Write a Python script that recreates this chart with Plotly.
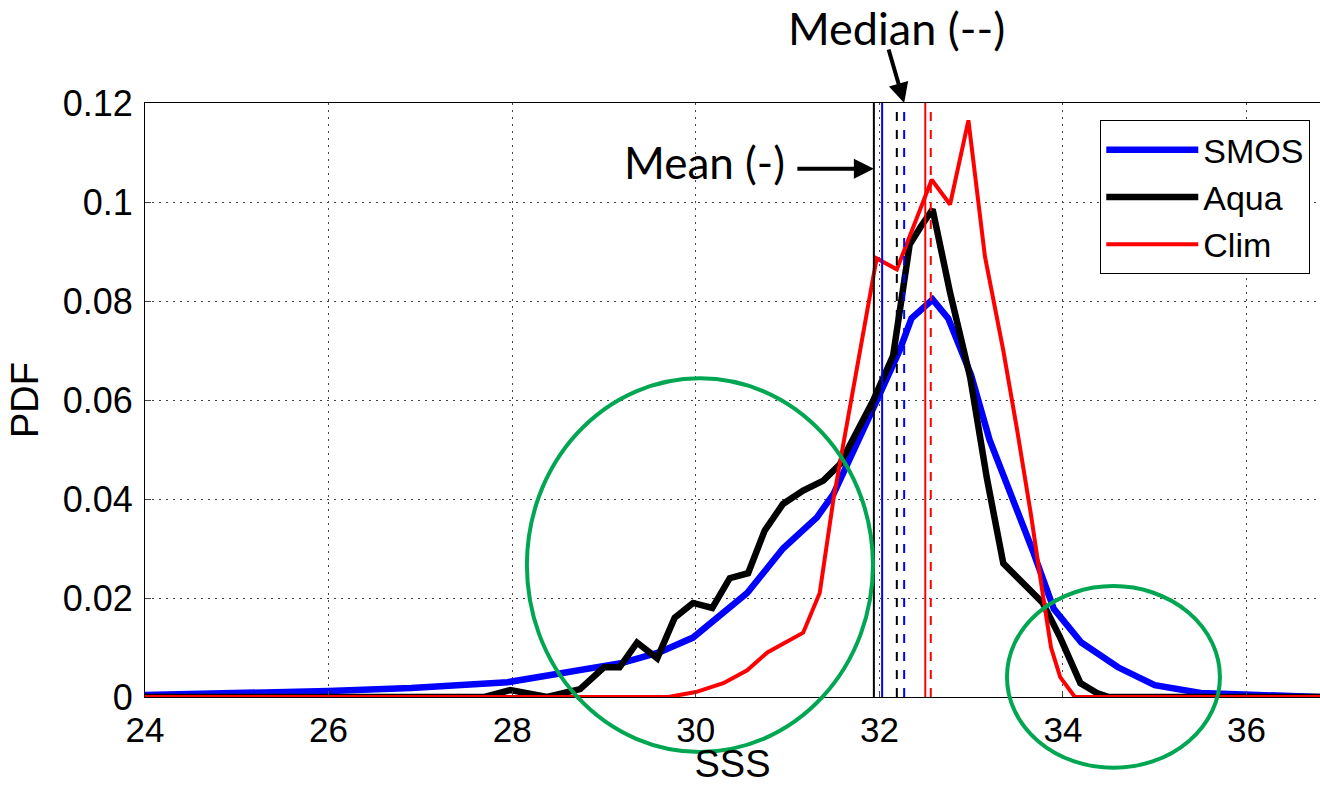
import plotly.graph_objects as go

# ---------------- data ----------------
smos_x = [24, 25.3, 26.0, 26.9, 27.5, 27.95, 28.5, 29.2, 29.6, 29.97, 30.56, 30.95, 31.32, 31.5,
          31.97, 32.22, 32.35, 32.58, 32.75, 33.0, 33.2, 33.42, 33.67, 33.9, 34.2, 34.6, 35.0,
          35.5, 36.2, 36.8]
smos_y = [0.0004, 0.0008, 0.0012, 0.0018, 0.0024, 0.003, 0.0047, 0.0069, 0.009, 0.012, 0.021,
          0.030, 0.0363, 0.041, 0.0598, 0.070, 0.0765, 0.0803, 0.0765, 0.065, 0.052, 0.0417,
          0.0296, 0.0178, 0.011, 0.006, 0.0024, 0.0008, 0.0003, 0.0]

aqua_x = [24, 27.7, 27.98, 28.38, 28.74, 29.0, 29.17, 29.36, 29.58, 29.77, 29.97, 30.18, 30.37,
          30.57, 30.75, 30.95, 31.17, 31.39, 31.57, 31.93, 32.15, 32.25, 32.33, 32.45, 32.58,
          32.77, 32.99, 33.17, 33.35, 33.64, 33.78, 33.97, 34.19, 34.37, 34.5, 36.8]
aqua_y = [0, 0, 0.0014, 0, 0.0016, 0.006, 0.006, 0.011, 0.0078, 0.016, 0.019, 0.018, 0.024,
          0.025, 0.0336, 0.039, 0.0417, 0.0437, 0.047, 0.0598, 0.069, 0.082, 0.0914, 0.095,
          0.0985, 0.0817, 0.0645, 0.0443, 0.027, 0.0216, 0.019, 0.012, 0.0028, 0.0008, 0, 0]

clim_x = [24, 29.7, 30.0, 30.3, 30.56, 30.78, 31.17, 31.35, 31.5, 31.97, 32.19, 32.57, 32.77,
          32.97, 33.15, 33.35, 33.5, 33.65, 33.77, 33.87, 33.97, 34.13, 36.8]
clim_y = [0, 0, 0.001, 0.0028, 0.0054, 0.009, 0.013, 0.021, 0.040, 0.0886, 0.0864, 0.1045,
          0.0995, 0.1165, 0.089, 0.070, 0.054, 0.037, 0.022, 0.010, 0.004, 0, 0]

# mean (solid) and median (dashed) values
means = {"SMOS": 32.03, "Aqua": 31.94, "Clim": 32.50}
medians = {"SMOS": 32.27, "Aqua": 32.19, "Clim": 32.56}

x_ticks = [24, 26, 28, 30, 32, 34, 36]
y_ticks = [0, 0.02, 0.04, 0.06, 0.08, 0.1, 0.12]
y_tick_text = ["0", "0.02", "0.04", "0.06", "0.08", "0.1", "0.12"]

X_RANGE = [24, 36.8]
Y_RANGE = [0, 0.12]

# highlight ellipses (data coordinates)
ellipses = [
    (28.16, 31.93, -0.0111, 0.0644),
    (33.39, 35.71, -0.0143, 0.0224),
]

colors = {"SMOS": "#0000FF", "Aqua": "#000000", "Clim": "#FF0000"}
widths = {"SMOS": 6.5, "Aqua": 6.5, "Clim": 4}

fig = go.Figure()
for name, xs, ys in [("SMOS", smos_x, smos_y), ("Aqua", aqua_x, aqua_y), ("Clim", clim_x, clim_y)]:
    fig.add_trace(go.Scatter(x=xs, y=ys, mode="lines", name=name,
                             line=dict(color=colors[name], width=widths[name])))

shapes = []
for name, v in means.items():
    shapes.append(dict(type="line", xref="x", yref="paper", x0=v, x1=v, y0=0, y1=1,
                       line=dict(color=colors[name], width=2)))
for name, v in medians.items():
    shapes.append(dict(type="line", xref="x", yref="paper", x0=v, x1=v, y0=0, y1=1,
                       line=dict(color=colors[name], width=2, dash="dash")))


def px(x):
    return (x - X_RANGE[0]) / (X_RANGE[1] - X_RANGE[0])


def py(y):
    return (y - Y_RANGE[0]) / (Y_RANGE[1] - Y_RANGE[0])


for x0, x1, y0, y1 in ellipses:
    shapes.append(dict(type="circle", xref="paper", yref="paper",
                       x0=px(x0), x1=px(x1), y0=py(y0), y1=py(y1),
                       line=dict(color="#00A651", width=4), layer="above"))

annotations = [
    dict(x=medians["SMOS"], y=0.12, xref="x", yref="y", text="", showarrow=True,
         ax=-16, ay=-55, arrowhead=2, arrowsize=1, arrowwidth=4, arrowcolor="black"),
    dict(x=means["Aqua"], y=0.1067, xref="x", yref="y", text="", showarrow=True,
         ax=-78, ay=0, arrowhead=2, arrowsize=1, arrowwidth=4, arrowcolor="black"),
    dict(x=32.19, y=1.126, xref="x", yref="paper", text="Median (--)", showarrow=False,
         font=dict(family="Lato", size=45, color="black"), xanchor="center", yanchor="middle"),
    dict(x=30.10, y=0.1081, xref="x", yref="y", text="Mean (-)", showarrow=False,
         font=dict(family="Lato", size=44, color="black"), xanchor="center", yanchor="middle"),
]

fig.update_layout(
    width=1320, height=785,
    margin=dict(l=145, r=0, t=103, b=88),
    paper_bgcolor="white", plot_bgcolor="white",
    font=dict(family="Liberation Sans", size=34, color="black"),
    shapes=shapes, annotations=annotations,
    legend=dict(x=0.813, y=0.971, xanchor="left", yanchor="top",
                bgcolor="white", bordercolor="black", borderwidth=1,
                font=dict(family="Liberation Sans", size=34), itemwidth=92,
                tracegroupgap=0),
    showlegend=True,
)
fig.update_xaxes(range=X_RANGE, tickvals=x_ticks, ticks="inside", ticklen=6,
                 showline=True, linecolor="black", linewidth=1, mirror=True,
                 showgrid=True, gridcolor="#444444", griddash="2px,5px", gridwidth=1,
                 zeroline=False, title=dict(text="SSS", standoff=4, font=dict(size=38)),
                 tickfont=dict(size=35), ticklabelstandoff=2)
fig.update_yaxes(range=Y_RANGE, tickvals=y_ticks, ticktext=y_tick_text, ticks="inside",
                 ticklen=6, showline=True, linecolor="black", linewidth=1, mirror=True,
                 showgrid=True, gridcolor="#444444", griddash="2px,5px", gridwidth=1,
                 zeroline=False, title=dict(text="PDF", standoff=12, font=dict(size=38)),
                 tickfont=dict(size=36), ticklabelstandoff=4)

fig.write_html("out.html")
